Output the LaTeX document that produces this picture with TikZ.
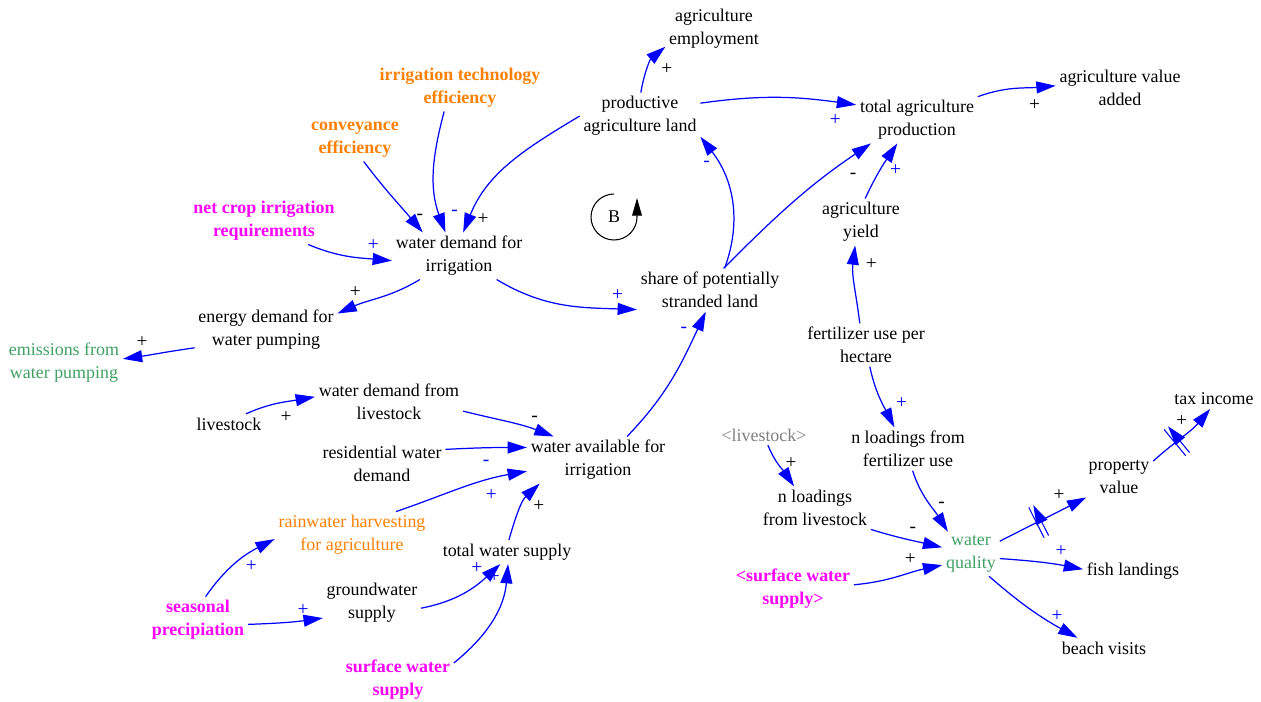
\documentclass[tikz,border=0pt]{standalone}
\usepackage{fontspec}
\setmainfont{Liberation Serif}
\newfontfamily\diagfont{Liberation Serif}
\usetikzlibrary{arrows.meta,decorations.markings}

\definecolor{linkblue}{RGB}{0,0,255}
\definecolor{inputorange}{RGB}{255,128,0}
\definecolor{inputmagenta}{RGB}{255,0,255}
\definecolor{outgreen}{RGB}{64,160,100}
\definecolor{shadowgray}{RGB}{128,128,128}

\newcommand{\varfont}{\diagfont\fontsize{10.2}{13}\selectfont}

\tikzset{
  var/.style={align=center, inner sep=2pt, font=\varfont},
  lever/.style={var, text=inputorange, font=\varfont\bfseries},
  driver/.style={var, text=inputmagenta, font=\varfont\bfseries},
  outcome/.style={var, text=outgreen},
  shadow/.style={var, text=shadowgray},
  link/.style={draw=linkblue, line width=0.7pt, -{Triangle[length=11pt,width=6.8pt]}},
  pol/.style={font=\diagfont\fontsize{11}{13}\selectfont, inner sep=1.5pt},
  polside/.style={#1},
  delay/.style={postaction={decorate, decoration={markings,
      mark=at position #1 with {\draw[linkblue, line width=0.6pt]
        (-0.05,-0.34) -- (-0.05,0.34) (0.05,-0.34) -- (0.05,0.34);}}}}
}

\begin{document}
\begin{tikzpicture}
  \useasboundingbox (0,0) rectangle (25.22,-14.02);

  % agriculture side
  \node[var] (emp) at (14.28,-0.58) {agriculture\\employment};
  \node[lever] (itech) at (9.20,-1.76) {irrigation technology\\efficiency};
  \node[var] (prod) at (12.80,-2.32) {productive\\agriculture land};
  \node[var] (tprod) at (18.34,-2.40) {total agriculture\\production};
  \node[var] (vadd) at (22.40,-1.76) {agriculture value\\added};
  \node[lever] (conv) at (7.10,-2.80) {conveyance\\efficiency};
  \node[driver] (ncir) at (5.28,-4.42) {net crop irrigation\\requirements};
  \node[var] (wdi) at (9.18,-5.12) {water demand for\\irrigation};
  \node[var] (yield) at (17.22,-4.44) {agriculture\\yield};
  \node[var] (share) at (14.20,-5.80) {share of potentially\\stranded land};
  \node[var] (energy) at (5.32,-6.60) {energy demand for\\water pumping};
  \node[outcome] (emis) at (1.28,-7.26) {emissions from\\water pumping};
  \node[var] (fert) at (17.32,-6.90) {fertilizer use per\\hectare};

  % water supply side
  \node[var] (wdl) at (7.78,-8.04) {water demand from\\livestock};
  \node[var] (lvs) at (4.58,-8.48) {livestock};
  \node[var] (resid) at (7.64,-9.28) {residential water\\demand};
  \node[var] (wai) at (11.96,-9.20) {water available for\\irrigation};
  \node[var] (rain) at (7.04,-10.70) [text=inputorange] {rainwater harvesting\\for agriculture};
  \node[var] (tws) at (10.14,-11.04) {total water supply};
  \node[var] (gw) at (7.44,-12.06) {groundwater\\supply};
  \node[driver] (seas) at (3.96,-12.40) {seasonal\\precipiation};
  \node[driver] (sws) at (7.96,-13.60) {surface water\\supply};

  % water quality side
  \node[var] (tax) at (24.28,-7.98) {tax income};
  \node[shadow] (lvsg) at (15.28,-8.70) {<livestock>};
  \node[var] (nfert) at (18.16,-8.98) {n loadings from\\fertilizer use};
  \node[var] (prop) at (22.38,-9.54) {property\\value};
  \node[var] (nlvs) at (16.30,-10.16) {n loadings\\from livestock};
  \node[outcome] (wq) at (19.42,-11.08) {water\\quality};
  \node[var] (fish) at (22.66,-11.42) {fish landings};
  \node[driver] (swsg) at (15.86,-11.78) {<surface water\\supply>};
  \node[var] (beach) at (22.08,-12.96) {beach visits};

  % balancing loop
  \node[var] (loopB) at (12.28,-4.34) {B};
  \draw[line width=0.6pt, -{Triangle[length=10pt,width=5.5pt]}]
    (loopB.center) ++(0,0.46) arc (90:360:0.46) -- ++(0,0.38);

  \foreach \src/\sa/\dst/\da/\o/\i/\sign/\col/\p/\side in {
      prod/88/emp/200/80/220/+/black/.45/right=6pt,
      prod/12/tprod/166/8/172/+/linkblue/.88/below=5pt,
      tprod/21/vadd/178/20/185/+/black/.75/below=5pt,
      share/56/prod/-19/70/308/-/linkblue/.78/left=3pt,
      share/58/tprod/207/45/214/-/black/.9/below=8pt,
      yield/80/tprod/230/65/236/+/linkblue/.5/right=4pt,
      fert/106/yield/256/97/263/+/black/.78/right=5pt,
      fert/-80/nfert/122/-78/117/+/linkblue/.6/right=6pt,
      nfert/-78/wq/136/-72/122/-/black/.55/right=3pt,
      lvsg/-69/nlvs/134/-68/124/+/black/.4/right=3pt,
      nlvs/-21/wq/167/-17/167/-/black/.6/above=3pt,
      swsg/4/wq/201/5/192/+/black/.65/above=3pt,
      wq/-9/fish/178/-4/169/+/linkblue/.75/above=3pt,
      wq/-51/beach/159/-41/151/+/linkblue/.8/above=1pt,
      itech/236/wdi/120/255/110/-/linkblue/.85/right=5pt,
      conv/-68/wdi/147/-53/130/-/black/.8/right=2pt,
      prod/180/wdi/80/211/68/+/black/.92/right=3pt,
      ncir/-28/wdi/184/-23/175/+/linkblue/.8/above=3pt,
      wdi/211/energy/13/211/24/+/black/.8/above=3pt,
      energy/194/emis/4/188/8/+/black/.75/above=3pt,
      wdi/-32/share/195/-31/178/+/linkblue/.88/above=3pt,
      wai/39/share/259/46/245/-/linkblue/.88/left=4pt,
      lvs/31/wdl/176/24/190/+/black/.6/below=4pt,
      wdl/-7/wai/152/-14/159/-/black/.8/above=3pt,
      resid/13/wai/170/3/180/-/linkblue/.5/below=5pt,
      rain/28/wai/189/19/190/+/linkblue/.75/below=4pt,
      tws/81/wai/202/74/223/+/black/.55/right=5pt,
      seas/72/rain/183/55/207/+/linkblue/.72/below=3pt,
      seas/-5/gw/197/2/188/+/linkblue/.75/above=1pt,
      gw/-6/tws/241/11/223/+/linkblue/.8/above left=0pt,
      sws/17/tws/275/39/265/+/linkblue/.9/left=2pt}
    \draw[link] (\src.\sa) to[out=\o,in=\i]
      node[pol, pos=\p, polside/.expanded=\side, text=\col] {\sign} (\dst.\da);

  % delayed links
  \draw[link, delay=.45] (wq.24) to[out=27,in=207]
    node[pol, pos=.7, above=4pt, text=black] {+} (prop.212);
  \draw[link, delay=.4] (prop.25) to[out=42,in=230]
    node[pol, pos=.8, left=5pt, text=black] {+} (tax.249);
\end{tikzpicture}
\end{document}
